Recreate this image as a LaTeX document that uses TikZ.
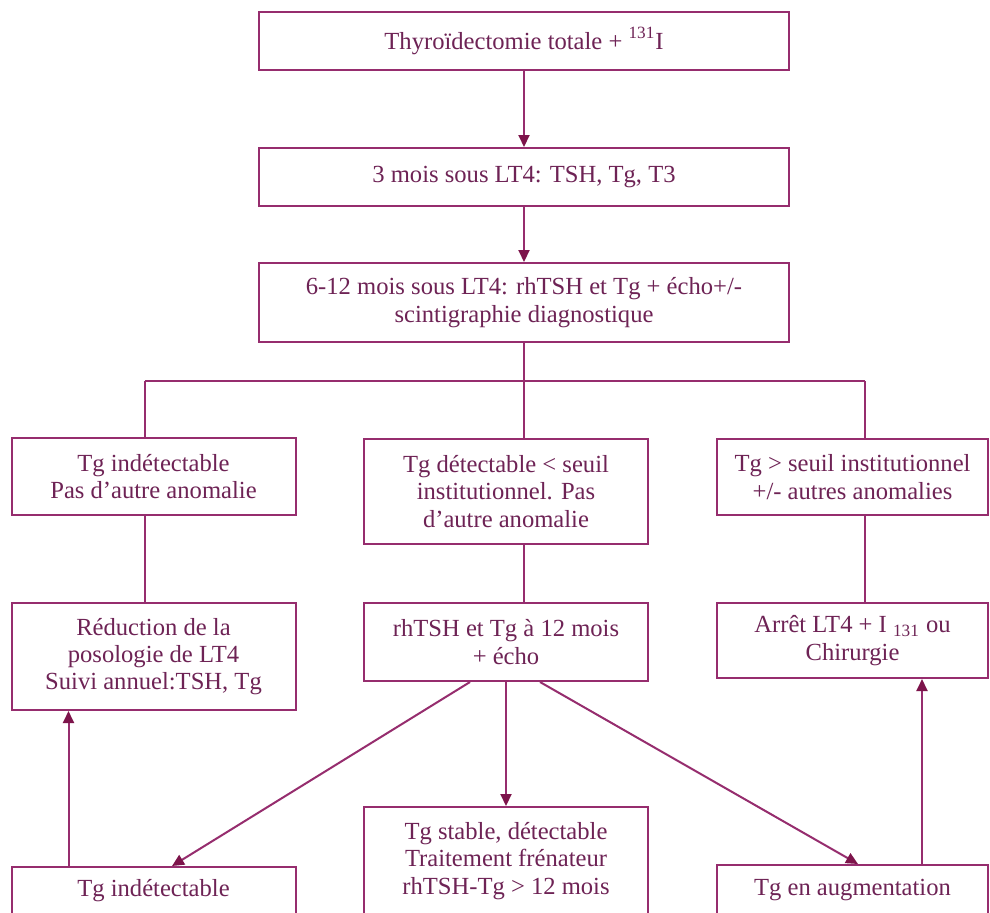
\documentclass[tikz,border=0pt]{standalone}
\usepackage{fontspec}
\setmainfont{Liberation Serif}
\usetikzlibrary{arrows.meta}
\definecolor{linec}{RGB}{150,45,110}
\definecolor{textc}{RGB}{110,35,85}
\definecolor{tipc}{RGB}{125,20,75}

\begin{document}
\begin{tikzpicture}[x=0.5pt,y=-0.5pt,
    box/.style={draw=linec,line width=1pt,align=center,inner sep=0pt,
      text=textc,font=\fontsize{12.3}{13.6}\selectfont},
    wide/.style={box,minimum width=265pt},
    col/.style={box,minimum width=142pt},
    colr/.style={box,minimum width=135.5pt},
    con/.style={draw=linec,line width=1pt},
    arr/.style={con,-{Triangle[length=6pt,width=5.5pt,color=tipc]}}]
  \clip (0,0) rectangle (990,912);
  \fill[white] (0,0) rectangle (990,912);
  \node[wide,minimum height=29pt] (n1) at (524,41) {Thyroïdectomie totale + \raisebox{1.5pt}{\textsuperscript{131}}I};
  \node[wide,minimum height=29pt] (n2) at (524,177) {3 mois sous LT4: TSH, Tg, T3};
  \node[wide,minimum height=39.5pt] (n3) at (524,302.5) {6-12 mois sous LT4: rhTSH et Tg + écho+/-\\scintigraphie diagnostique};
  \node[col,minimum height=38.5pt] (a1) at (153.5,476.5) {Tg indétectable\\Pas d’autre anomalie};
  \node[col,minimum height=52.5pt] (a2) at (506,491.5) {Tg détectable < seuil\\institutionnel. Pas\\d’autre anomalie};
  \node[colr,minimum height=38pt] (a3) at (852.5,477) {Tg > seuil institutionnel\\+/- autres anomalies};
  \node[col,minimum height=53.5pt] (b1) at (153.5,656.5) {Réduction de la\\posologie de LT4\\Suivi annuel:TSH, Tg};
  \node[col,minimum height=39pt] (b2) at (506,642) {rhTSH et Tg à 12 mois\\+ écho};
  \node[colr,minimum height=37.5pt] (b3) at (852.5,640.5) {Arrêt LT4 + I \textsubscript{131} ou\\Chirurgie};
  \node[col,minimum height=24pt] (c1) at (153.5,891) {Tg indétectable};
  \node[col,minimum height=54pt] (c2) at (506,861) {Tg stable, détectable\\Traitement frénateur\\rhTSH-Tg > 12 mois};
  \node[colr,minimum height=25pt] (c3) at (852.5,890) {Tg en augmentation};
  \coordinate (bl) at (145,381);
  \coordinate (bm) at (524,381);
  \coordinate (br) at (865,381);
  \draw[arr] (n1) -- (n2);
  \draw[arr] (n2) -- (n3);
  \draw[con] (n3.south) -- (bm) (bl) -- (br);
  \draw[con] (bl) -- (bl |- a1.north) (bm) -- (bm |- a2.north) (br) -- (br |- a3.north);
  \draw[con] (a1.south -| bl) -- (b1.north -| bl);
  \draw[con] (a2.south -| bm) -- (b2.north -| bm);
  \draw[con] (a3.south -| br) -- (b3.north -| br);
  \draw[arr] ([xshift=-18pt]b2.south) -- ([xshift=9.25pt]c1.north);
  \draw[arr] (b2.south) -- (c2.north);
  \draw[arr] ([xshift=17pt]b2.south) -- ([xshift=2.75pt]c3.north);
  \draw[arr] ([xshift=29pt]c1.north west) -- ([xshift=29pt]b1.south west);
  \draw[arr] ([xshift=34.75pt]c3.north) -- ([xshift=34.75pt]b3.south);
\end{tikzpicture}
\end{document}
